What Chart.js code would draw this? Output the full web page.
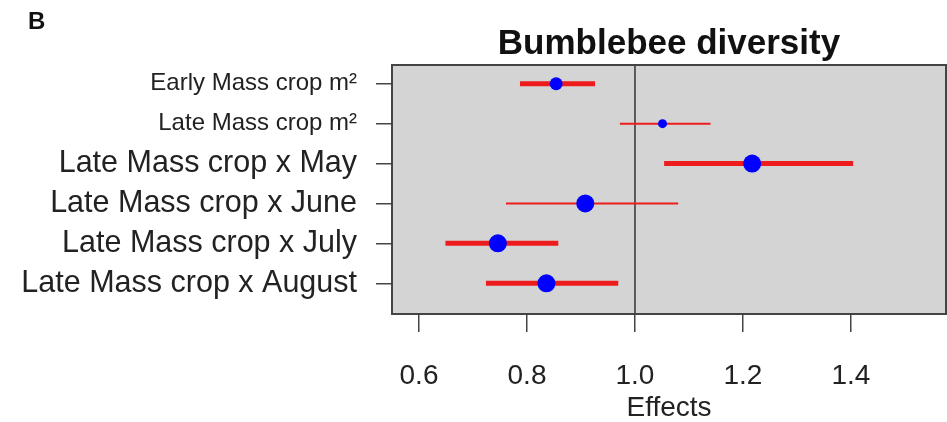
<!DOCTYPE html>
<html lang="en">
<head>
<meta charset="UTF-8">
<title>Bumblebee diversity</title>
<script src="https://cdn.jsdelivr.net/npm/chart.js"></script>
<style>
    html, body { margin: 0; padding: 0; background: #fff; overflow: hidden; }
    canvas { display: block; }
</style>
</head>
<body>
<canvas id="myChart" width="947" height="422"></canvas>
<script>
    // data
    const categories = ['Early Mass crop m²', 'Late Mass crop m²', 'Late Mass crop x May',
        'Late Mass crop x June', 'Late Mass crop x July', 'Late Mass crop x August'];
    const estimates = [0.854, 1.051, 1.217, 0.908, 0.746, 0.836];
    const lower = [0.787, 0.972, 1.054, 0.761, 0.649, 0.724];
    const upper = [0.926, 1.140, 1.404, 1.080, 0.858, 0.969];
    const xTicks = [0.6, 0.8, 1.0, 1.2, 1.4];
    const refValue = 1.0;

    // styles
    const barWidths = [5, 2, 5, 2, 5, 5];
    const dotRadius = [6.5, 4.5, 9, 9, 9, 9];
    const font = "'Liberation Sans', Arial, sans-serif";

    const datasets = [{
        type: 'scatter',
        data: estimates.map((v, i) => ({ x: v, y: i })),
        pointRadius: dotRadius,
        pointBackgroundColor: '#0000ff',
        pointBorderWidth: 0,
        order: 0
    }];
    categories.forEach((c, i) => {
        datasets.push({
            type: 'line',
            data: [{ x: lower[i], y: i }, { x: upper[i], y: i }],
            borderColor: '#ee1c1c',
            borderWidth: barWidths[i],
            pointRadius: 0,
            order: 1
        });
    });

    const panel = {
        id: 'panel',
        beforeDatasetsDraw(chart) {
            const { ctx, chartArea: a, scales } = chart;
            ctx.save();
            ctx.fillStyle = '#d4d4d4';
            ctx.fillRect(a.left, a.top, a.right - a.left, a.bottom - a.top);
            const x = scales.x.getPixelForValue(refValue);
            ctx.strokeStyle = '#333';
            ctx.lineWidth = 1.5;
            ctx.beginPath();
            ctx.moveTo(x, a.top);
            ctx.lineTo(x, a.bottom);
            ctx.stroke();
            ctx.strokeStyle = '#444';
            ctx.lineWidth = 2;
            ctx.strokeRect(a.left, a.top, a.right - a.left, a.bottom - a.top);
            ctx.restore();
        },
        afterDraw(chart) {
            const { ctx, chartArea: a } = chart;
            ctx.save();
            ctx.fillStyle = '#111';
            ctx.textAlign = 'center';
            ctx.textBaseline = 'middle';
            ctx.font = 'bold 35px ' + font;
            ctx.fillText('Bumblebee diversity', (a.left + a.right) / 2, 44);
            ctx.textAlign = 'left';
            ctx.font = 'bold 24px ' + font;
            ctx.fillText('B', 28, 22);
            ctx.restore();
        }
    };

    const ctx = document.getElementById('myChart');

    new Chart(ctx, {
        data: { datasets: datasets },
        options: {
            responsive: false,
            animation: false,
            events: [],
            layout: { autoPadding: false, padding: { top: 65, right: 1, left: 0, bottom: 0 } },
            plugins: {
                legend: { display: false },
                tooltip: { enabled: false },
                title: { display: false }
            },
            scales: {
                x: {
                    type: 'linear',
                    min: 0.55,
                    max: 1.576,
                    afterBuildTicks: s => { s.ticks = xTicks.map(v => ({ value: v })); },
                    afterFit: s => { s.height = 108; s.paddingLeft = 0; s.paddingRight = 0; },
                    border: { display: false },
                    grid: { drawOnChartArea: false, drawTicks: true, tickLength: 18, color: '#444', lineWidth: 1.5 },
                    ticks: {
                        padding: 27,
                        color: '#222',
                        font: { family: font, size: 28 },
                        callback: v => v.toFixed(1)
                    },
                    title: {
                        display: true,
                        text: 'Effects',
                        color: '#222',
                        font: { family: font, size: 28 },
                        padding: { top: 0, bottom: -3 }
                    }
                },
                y: {
                    type: 'linear',
                    reverse: true,
                    min: -0.47,
                    max: 5.77,
                    afterBuildTicks: s => { s.ticks = categories.map((c, i) => ({ value: i })); },
                    afterFit: s => { s.width = 392; s.paddingTop = 0; s.paddingBottom = 0; },
                    border: { display: false },
                    grid: { drawOnChartArea: false, drawTicks: true, tickLength: 16, color: '#444', lineWidth: 1.5 },
                    ticks: {
                        padding: 19,
                        color: '#222',
                        font: c => ({ family: font, size: c.index < 2 ? 24 : 30.5 }),
                        callback: (v, i) => categories[i]
                    }
                }
            }
        },
        plugins: [panel]
    });
</script>
</body>
</html>
